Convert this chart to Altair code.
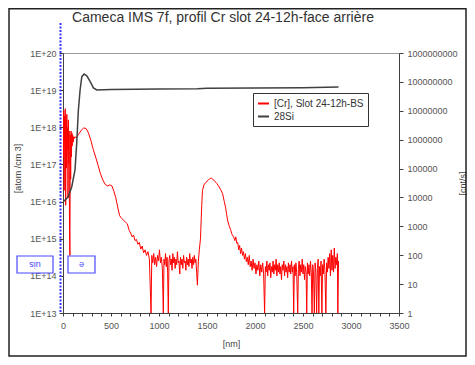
import altair as alt
import pandas as pd

title_text = "Cameca IMS 7f, profil Cr slot 24-12h-face arrière"
cr_name = "[Cr], Slot 24-12h-BS"
si_name = "28Si"

# [Cr] profile (depth in nm, log10 of atom/cm3)
cr_nm = [0, 4, 8, 12, 16, 20, 24, 28, 32, 36, 40, 44, 48, 52, 56, 60, 64, 68, 72, 76,
         80, 84, 88, 92, 96, 100, 106, 112, 118, 125,
         140, 160, 190, 215, 240, 265, 290, 315, 340, 365, 390, 415, 440, 465, 490,
         510, 530, 550, 570, 590, 610, 630, 650, 670, 690, 705, 720, 735, 750, 765,
         780, 795, 810, 825, 840, 855, 870, 885, 900, 917, 925, 935, 945, 955, 965,
         975, 985, 995, 1005, 1015, 1025, 1035, 1045, 1052, 1060, 1068, 1076, 1084,
         1090, 1097, 1104, 1112, 1120, 1128, 1136, 1144, 1152, 1160, 1168, 1176, 1184,
         1192, 1200, 1208, 1216, 1224, 1232, 1240, 1248, 1256, 1264, 1272, 1280, 1288,
         1296, 1304, 1312, 1320, 1328, 1336, 1344, 1352, 1360, 1368, 1376, 1384, 1392,
         1400, 1410, 1420, 1432, 1445, 1453, 1468, 1484, 1500, 1515, 1530, 1547, 1560,
         1575, 1590, 1605, 1620, 1640, 1662, 1680, 1693, 1705, 1714, 1730, 1745, 1760,
         1777, 1790, 1800, 1810, 1820, 1830, 1840, 1850, 1860, 1870, 1880, 1890, 1900,
         1910, 1920, 1930, 1940, 1950, 1960, 1970, 1980, 1990, 2000, 2010, 2020, 2030,
         2040, 2050, 2060, 2070, 2080, 2090, 2100, 2108, 2116, 2124, 2132, 2140, 2148,
         2156, 2164, 2172, 2180, 2188, 2196, 2204, 2212, 2220, 2228, 2236, 2244, 2252,
         2260, 2268, 2276, 2284, 2292, 2300, 2308, 2316, 2324, 2332, 2340, 2348, 2356,
         2364, 2372, 2380, 2388, 2396, 2403, 2410, 2418, 2426, 2434, 2445, 2452, 2460,
         2468, 2476, 2484, 2492, 2500, 2508, 2516, 2524, 2532, 2539, 2546, 2554, 2562,
         2570, 2578, 2586, 2594, 2602, 2610, 2618, 2626, 2634, 2642, 2650, 2658, 2665,
         2672, 2680, 2688, 2697, 2704, 2712, 2720, 2728, 2738, 2746, 2754, 2762, 2770,
         2778, 2786, 2794, 2802, 2810, 2818, 2826, 2834, 2842, 2850, 2858, 2863, 2870]
cr_log = [18.1, 17.2, 18.45, 16.3, 18.3, 17.6, 18.5, 15.9, 18.2, 16.9, 18.35, 17.4, 18.0, 16.1,
          18.2, 17.0, 17.9, 15.2, 14.55, 17.8, 16.6, 17.9, 17.2, 17.85, 17.5, 17.8, 17.6, 17.75,
          17.7, 17.74,
          17.72, 17.8, 17.92, 17.98, 17.97, 17.85, 17.65, 17.4, 17.2, 16.98, 16.75, 16.58, 16.46,
          16.42, 16.45, 16.42, 16.28, 16.1, 15.85, 15.62, 15.55, 15.5, 15.45, 15.4, 15.22, 15.15,
          15.05, 15.1, 14.95, 14.98, 14.85, 14.9, 14.72, 14.8, 14.62, 14.7, 14.55, 14.65, 14.45,
          13.0, 14.55, 14.35, 14.6, 14.3, 14.5, 14.25, 14.55, 14.4, 14.7, 14.35, 14.5, 14.2,
          13.0, 14.45, 14.3, 14.6, 14.25, 14.5, 14.1, 13.0, 14.4, 14.55, 14.3, 14.45, 14.15,
          14.6, 14.35, 14.5, 14.2, 14.45, 14.3, 14.65, 14.35, 14.4, 14.05, 14.5, 14.3, 14.45,
          14.2, 14.55, 14.35, 14.4, 14.15, 14.5, 14.3, 14.45, 14.25, 14.6, 14.35, 14.45, 14.2,
          14.5, 14.3, 14.55, 14.35, 14.45, 14.1,
          13.75, 14.4, 14.7, 15.0, 15.9, 16.3, 16.45, 16.5, 16.55, 16.58, 16.62, 16.63, 16.6,
          16.57, 16.52, 16.48, 16.42, 16.33, 16.22, 16.0, 15.85, 15.65, 15.5, 15.35, 15.25,
          15.12, 15.05, 14.95, 15.05, 14.88, 14.9, 14.7, 14.82, 14.6, 14.75, 14.55, 14.65,
          14.45, 14.6, 14.38, 14.5, 14.3, 14.55, 14.25, 14.4, 14.15, 14.45, 14.2, 14.35, 14.05,
          14.3, 14.15, 14.4, 14.0, 14.3, 14.1, 14.35, 14.05, 13.0, 14.25, 14.1, 14.4, 14.0,
          14.3, 14.15, 14.35, 13.95, 14.25, 14.1, 14.4, 14.05, 14.3, 14.15, 14.45, 14.0, 14.3,
          14.1, 14.35, 14.05, 14.25, 13.9, 14.3, 14.15, 14.4, 14.0, 14.3, 14.1, 14.25, 13.95,
          14.35, 14.1, 14.3, 14.05, 14.4, 14.1, 14.25, 13.0, 14.3, 14.0, 14.35, 14.1, 13.0,
          14.2, 14.4, 14.0, 14.3, 14.1, 14.45, 14.05, 14.3, 13.9, 14.25, 14.1, 13.0, 14.35,
          14.05, 14.3, 14.0, 14.4, 14.1, 13.0, 14.3, 14.05, 13.0, 14.35, 14.1, 13.0, 14.2,
          14.45, 13.0, 14.25, 14.0, 14.4, 13.0, 14.3, 14.05, 14.45, 14.15, 13.0, 14.35, 14.1,
          14.5, 14.2, 14.6, 14.0, 14.7, 14.15, 14.55, 14.1, 14.75, 14.2, 14.5, 14.3, 14.6,
          13.0, 14.4]

# 28Si signal (depth in nm, log10 of cnt/s)
si_nm = [0, 55, 91, 125, 143, 160, 178, 196, 220, 248, 282, 317, 352, 500, 1000, 1400,
         1500, 2000, 2500, 2870]
si_log = [3.84, 4.02, 4.37, 4.95, 5.88, 7.02, 7.72, 8.18, 8.27, 8.21, 8.02, 7.79, 7.72, 7.74,
          7.75, 7.76, 7.78, 7.79, 7.80, 7.82]

left_ticks = [1e13, 1e14, 1e15, 1e16, 1e17, 1e18, 1e19, 1e20]
right_ticks = [1, 10, 100, 1000, 10000, 100000, 1000000, 10000000, 100000000, 1000000000]
x_ticks = [0, 100, 200, 300, 400, 500, 600, 700, 800, 900, 1000, 1100, 1200, 1300, 1400,
           1500, 1600, 1700, 1800, 1900, 2000, 2100, 2200, 2300, 2400, 2500, 2600, 2700,
           2800, 2900, 3000, 3100, 3200, 3300, 3400, 3500]

FONT = "Liberation Sans"

cr_df = pd.DataFrame({"nm": cr_nm, "value": [10 ** v for v in cr_log], "series": cr_name})
si_df = pd.DataFrame({"nm": si_nm, "value": [10 ** v for v in si_log], "series": si_name})
one = pd.DataFrame({"k": [0]})

color = alt.Color(
    "series:N",
    scale=alt.Scale(domain=[cr_name, si_name], range=["#ff0000", "#404040"]),
    legend=alt.Legend(
        title=None, orient="none", legendX=190, legendY=40,
        strokeColor="#333333", fillColor="white", padding=4,
        symbolType="stroke", symbolStrokeWidth=2, symbolSize=120,
        labelFont=FONT, labelFontSize=10, labelColor="#333333", rowPadding=1,
    ),
)

x_enc = alt.X(
    "nm:Q",
    scale=alt.Scale(domain=[0, 3500], nice=False),
    axis=alt.Axis(
        values=x_ticks, format="d",
        labelExpr="datum.value % 500 === 0 ? format(datum.value, 'd') : ''",
        labelOverlap=False, labelFlush=False, tickSize=3, labelPadding=5,
        title="[nm]", titleX=168, titleY=30, titleAlign="center", titleBaseline="middle",
    ),
)

cr_line = alt.Chart(cr_df).mark_line(strokeWidth=1, clip=True).encode(
    x=x_enc,
    y=alt.Y(
        "value:Q",
        scale=alt.Scale(type="log", domain=[1e13, 1e20], nice=False),
        axis=alt.Axis(
            values=left_ticks, labelExpr="'1E+' + round(log(datum.value)/LN10)",
            tickSize=4, labelPadding=3, title="[atom /cm 3]",
            titleX=-46, titleY=115, titleAlign="center", titleBaseline="middle",
        ),
    ),
    color=color,
)

si_line = alt.Chart(si_df).mark_line(strokeWidth=1.5, clip=True).encode(
    x=x_enc,
    y=alt.Y(
        "value:Q",
        scale=alt.Scale(type="log", domain=[1, 1e9], nice=False),
        axis=alt.Axis(
            orient="right", values=right_ticks, format="d",
            tickSize=4, labelPadding=4, title="[cnt/s]",
            titleX=63, titleY=130, titleAngle=-90, titleAlign="center", titleBaseline="middle",
        ),
    ),
    color=color,
)

frame = alt.Chart(one).mark_rect(filled=False, color="#222222", strokeWidth=1.5).encode(
    x=alt.value(-54), x2=alt.value(403), y=alt.value(-44.3), y2=alt.value(303)
)
title_mark = alt.Chart(one).mark_text(
    font=FONT, fontSize=14, color="#333333", align="center", baseline="alphabetic"
).encode(x=alt.value(160), y=alt.value(-31), text=alt.value(title_text))

blue_line = alt.Chart(one).mark_rule(color="#3535ff", strokeWidth=2, strokeDash=[2, 1.5]).encode(
    x=alt.value(-2.5), y=alt.value(-30), y2=alt.value(260)
)
box1 = alt.Chart(one).mark_rect(fill="white", stroke="#4a4aff", strokeWidth=1.2).encode(
    x=alt.value(-46), x2=alt.value(-10), y=alt.value(203), y2=alt.value(220)
)
box2 = alt.Chart(one).mark_rect(fill="white", stroke="#4a4aff", strokeWidth=1.2).encode(
    x=alt.value(5), x2=alt.value(32), y=alt.value(203), y2=alt.value(220)
)
box1_text = alt.Chart(one).mark_text(
    font=FONT, fontSize=9, color="#4a4aff", angle=180, align="center", baseline="middle"
).encode(x=alt.value(-28), y=alt.value(211.5), text=alt.value("uis"))
box2_text = alt.Chart(one).mark_text(
    font=FONT, fontSize=9, color="#4a4aff", angle=180, align="center", baseline="middle"
).encode(x=alt.value(18.5), y=alt.value(211.5), text=alt.value("e"))

chart = alt.layer(
    cr_line, si_line, frame, title_mark, blue_line, box1, box2, box1_text, box2_text
).resolve_scale(y="independent").properties(
    width=336, height=260,
    autosize=alt.AutoSizeParams(type="none"),
    padding={"left": 55, "top": 45, "right": 68, "bottom": 44},
    background="white",
).configure_view(stroke="#9a9a9a", strokeWidth=1).configure_axis(
    grid=False, domainColor="#404040", tickColor="#404040",
    labelColor="#555555", labelFont=FONT, labelFontSize=9,
    titleColor="#444444", titleFont=FONT, titleFontSize=9, titleFontWeight="normal",
)

chart.save("out.html", embed_options={"renderer": "svg", "actions": False})
